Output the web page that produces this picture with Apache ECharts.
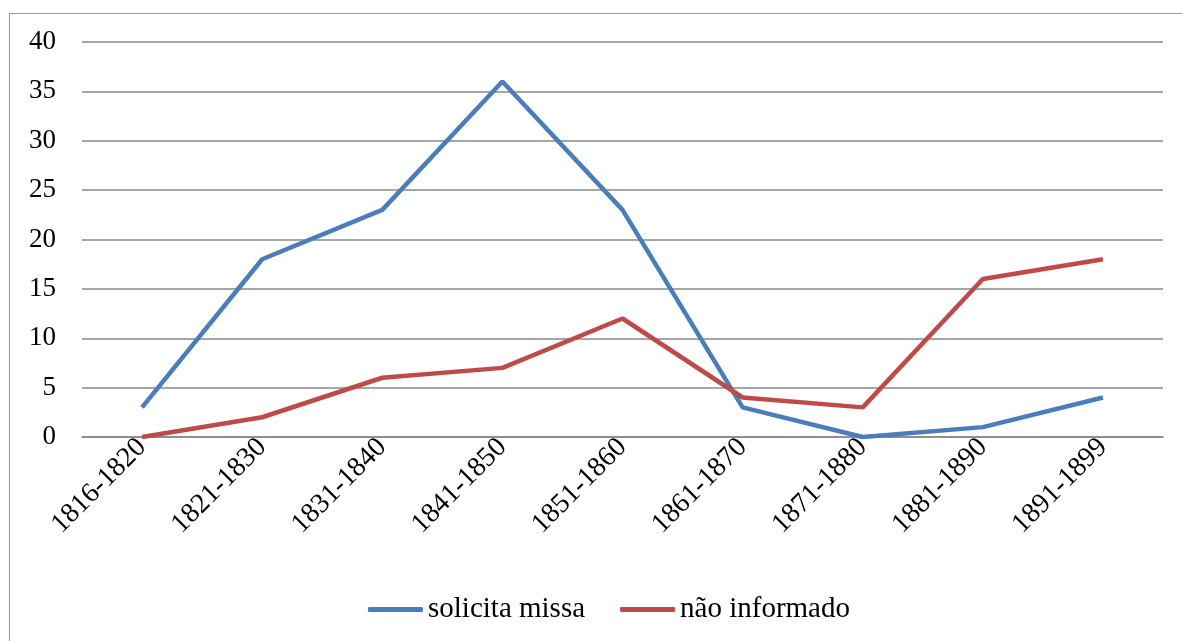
<!DOCTYPE html>
<html>
<head>
<meta charset="utf-8">
<script src="https://cdn.jsdelivr.net/npm/echarts@6/dist/echarts.min.js"></script>
<style>
  html, body { margin: 0; padding: 0; background: #fff; overflow: hidden; }
  #frame { position: absolute; left: 9px; top: 13px; width: 1200px; height: 700px; border: 1px solid #999; box-sizing: border-box; }
  #chart { position: absolute; left: 0; top: 0; width: 1182px; height: 641px; }
</style>
</head>
<body>
<div id="frame"></div>
<div id="chart"></div>
<script>
// decades
const categories = ['1816-1820', '1821-1830', '1831-1840', '1841-1850', '1851-1860', '1861-1870', '1871-1880', '1881-1890', '1891-1899']
const solicitaMissa = [3, 18, 23, 36, 23, 3, 0, 1, 4]
const naoInformado = [0, 2, 6, 7, 12, 4, 3, 16, 18]
const yTicks = { min: 0, max: 40, interval: 5 }

const serif = '"Liberation Serif", serif'
const myChart = echarts.init(document.getElementById('chart'))

const option = {
  animation: false,
  textStyle: { fontFamily: serif },
  grid: { left: 82, right: 19, top: 42, bottom: 204, containLabel: false },
  legend: {
    top: 590,
    left: 363,
    itemWidth: 55,
    itemHeight: 5,
    itemGap: 35,
    icon: 'roundRect',
    textStyle: { fontFamily: serif, fontSize: 29, color: '#000' },
    data: ['solicita missa', 'não informado']
  },
  xAxis: {
    type: 'category',
    boundaryGap: true,
    data: categories,
    axisLine: { lineStyle: { color: '#888', width: 1.5 } },
    axisTick: { show: false },
    axisLabel: { rotate: 45, fontFamily: serif, fontSize: 28, color: '#000', margin: 6, interval: 0 }
  },
  yAxis: {
    type: 'value',
    min: yTicks.min,
    max: yTicks.max,
    interval: yTicks.interval,
    axisLine: { show: false },
    axisTick: { show: false },
    splitLine: { lineStyle: { color: '#888', width: 1.5 } },
    axisLabel: { fontFamily: serif, fontSize: 27, color: '#000', margin: 26 }
  },
  series: [
    {
      name: 'solicita missa',
      type: 'line',
      data: solicitaMissa,
      symbol: 'none',
      color: '#4a7ebb',
      lineStyle: { width: 4.5, color: '#4a7ebb' }
    },
    {
      name: 'não informado',
      type: 'line',
      data: naoInformado,
      symbol: 'none',
      color: '#be4b48',
      lineStyle: { width: 4.5, color: '#be4b48' }
    }
  ]
}
option && myChart.setOption(option)
</script>
</body>
</html>
